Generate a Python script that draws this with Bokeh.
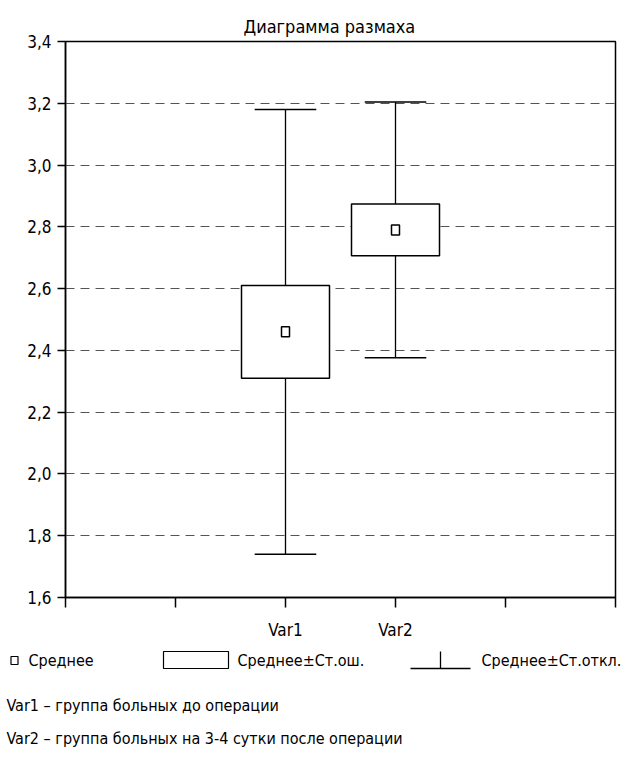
from bokeh.plotting import figure
from bokeh.layouts import column, row
from bokeh.models import FixedTicker, CustomJSTickFormatter, Range1d
from bokeh.core.properties import value
from bokeh.embed import file_html
from bokeh.resources import INLINE

# ---- data ----
categories = ["Var1", "Var2"]
means = [2.46, 2.79]
std_errs = [0.15, 0.084]
std_devs = [0.72, 0.414]
y_ticks = [1.6, 1.8, 2.0, 2.2, 2.4, 2.6, 2.8, 3.0, 3.2, 3.4]
title_text = "Диаграмма размаха"
legend_labels = ["Среднее", "Среднее±Ст.ош.", "Среднее±Ст.откл."]
notes = ["Var1 – группа больных до операции",
         "Var2 – группа больных на 3-4 сутки после операции"]

FONT = "DejaVu Sans Condensed"
W, H = 635, 774
TOP_H = 645
FRAME_L, FRAME_R = 65, 615

# category positions on a 0..5 axis (slots 2 and 3)
xs = [i + 2 for i in range(len(categories))]
box_half = 0.4
cap_half = 0.28

p = figure(width=W, height=TOP_H, output_backend="svg", toolbar_location=None,
           x_range=Range1d(0, 5), y_range=Range1d(1.6, 3.4),
           frame_width=FRAME_R - FRAME_L, frame_height=556,
           min_border_left=FRAME_L, min_border_right=W - FRAME_R, min_border_top=41,
           min_border_bottom=48, tools="")
p.title.text = title_text
p.title.align = "left"
p.title.offset = 178
p.title.text_font = FONT
p.title.text_font_size = "18px"
p.title.text_font_style = "normal"
p.title.text_color = "black"
p.title.standoff = 10

p.outline_line_color = "black"
p.outline_line_width = 1.5
p.xgrid.visible = False
p.ygrid.grid_line_color = "#555555"
p.ygrid.grid_line_dash = "9 6"
p.ygrid.grid_line_width = 1.2

p.yaxis.ticker = FixedTicker(ticks=y_ticks)
p.yaxis.formatter = CustomJSTickFormatter(code="return tick.toFixed(1).replace('.', ',');")
p.yaxis.minor_tick_line_color = None
p.yaxis.major_tick_out = 8
p.yaxis.major_tick_in = 0
p.yaxis.major_label_standoff = 6

p.xaxis.ticker = FixedTicker(ticks=[0, 1, 2, 3, 4, 5])
over = {i: "" for i in range(6)}
for c, x in zip(categories, xs):
    over[x] = c
p.xaxis.major_label_overrides = over
p.xaxis.minor_tick_line_color = None
p.xaxis.major_tick_out = 10
p.xaxis.major_tick_in = 0
p.xaxis.major_label_standoff = 12

for ax in (p.xaxis[0], p.yaxis[0]):
    ax.axis_line_color = "black"
    ax.axis_line_width = 1.5
    ax.major_tick_line_color = "black"
    ax.major_tick_line_width = 1.5
    ax.major_label_text_font = FONT
    ax.major_label_text_font_size = "17px"
    ax.major_label_text_color = "black"

lo_sd = [m - s for m, s in zip(means, std_devs)]
hi_sd = [m + s for m, s in zip(means, std_devs)]
lo_se = [m - s for m, s in zip(means, std_errs)]
hi_se = [m + s for m, s in zip(means, std_errs)]

# whiskers
p.segment(x0=xs, x1=xs, y0=lo_sd, y1=hi_sd, line_color="black", line_width=1.3)
p.segment(x0=[x - cap_half for x in xs], x1=[x + cap_half for x in xs],
          y0=hi_sd, y1=hi_sd, line_color="black", line_width=1.5)
p.segment(x0=[x - cap_half for x in xs], x1=[x + cap_half for x in xs],
          y0=lo_sd, y1=lo_sd, line_color="black", line_width=1.5)
# boxes
p.quad(left=[x - box_half for x in xs], right=[x + box_half for x in xs],
       bottom=lo_se, top=hi_se, fill_color="white", line_color="black", line_width=1.5)
# means
p.rect(x=xs, y=means, width=8, height=10, width_units="screen", height_units="screen",
       fill_color="white", line_color="black", line_width=1.5)

# ---- legend / notes panel (pixel coordinates) ----
LH = H - TOP_H
q = figure(width=W, height=LH, output_backend="svg", toolbar_location=None,
           x_range=Range1d(0, W), y_range=Range1d(H, TOP_H),
           min_border=0, tools="")
q.axis.visible = False
q.grid.visible = False
q.outline_line_color = None

row_y = 660
q.rect(x=[14], y=[row_y], width=7, height=8, fill_color="white",
       line_color="black", line_width=1.2)
q.quad(left=[163], right=[228], top=[651], bottom=[668], fill_color="white",
       line_color="black", line_width=1.2)
q.segment(x0=[410], x1=[470], y0=[668], y1=[668], line_color="black", line_width=1.3)
q.segment(x0=[440], x1=[440], y0=[651], y1=[668], line_color="black", line_width=1.3)
q.text(x=[28, 237, 481], y=[row_y] * 3, text=legend_labels,
       text_font=value(FONT), text_font_size="16px", text_baseline="middle",
       text_color="black")
q.text(x=[6, 6], y=[705, 738], text=notes,
       text_font=value(FONT), text_font_size="16px", text_baseline="middle",
       text_color="black")

layout = column(p, row(q), spacing=0)
open("out.html", "w").write(file_html(layout, INLINE))
